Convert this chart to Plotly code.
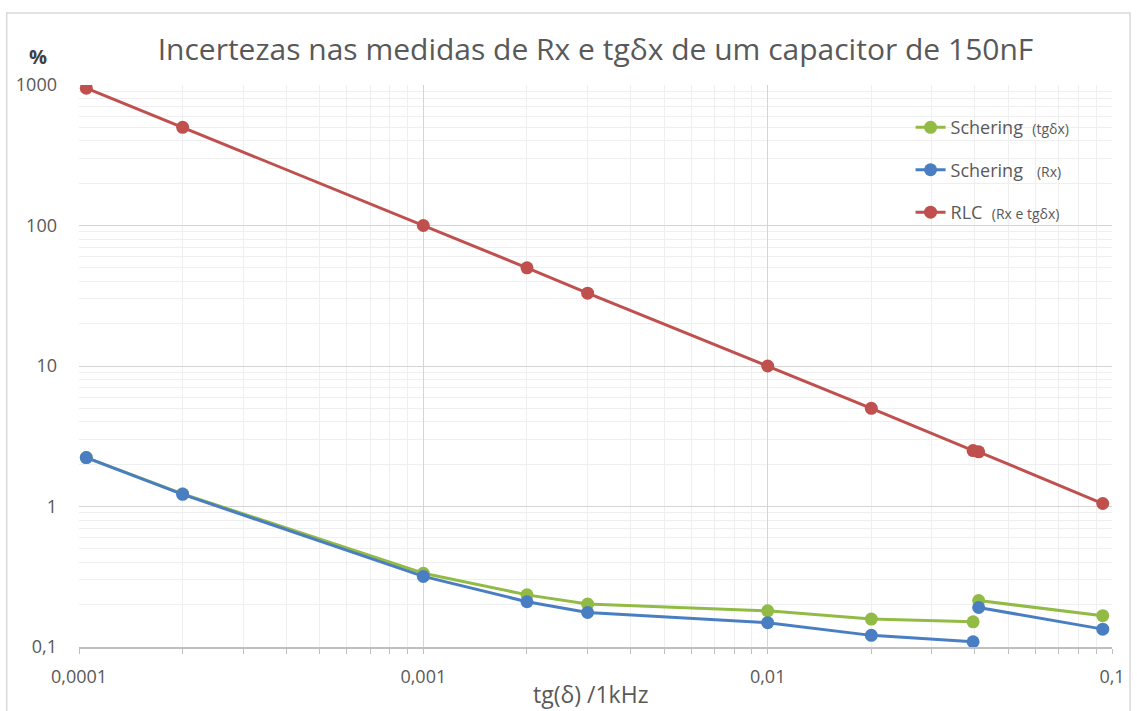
import plotly.graph_objects as go

GREEN = "#92BB45"
BLUE = "#4A7EC2"
RED = "#C0504D"
TEXT = "#595959"
GRID_MAJOR = "#D4D4D4"
GRID_MINOR = "#EFEFEF"

# tg(delta) values at 1 kHz
tg_delta = [0.000105, 0.0002, 0.001, 0.002, 0.003, 0.01, 0.02, 0.0395, 0.041, 0.094]

# uncertainties (%)
rlc = [950, 500, 100, 50, 33, 10, 5, 2.5, 2.45, 1.05]
schering_tg = [2.23, 1.23, 0.335, 0.235, 0.202, 0.181, 0.158, 0.151, 0.214, 0.167]
schering_rx = [2.23, 1.22, 0.318, 0.21, 0.176, 0.149, 0.121, 0.109, 0.191, 0.134]

# the Schering series are broken between the 8th and 9th points
BREAK = 8
x_broken = tg_delta[:BREAK] + [None] + tg_delta[BREAK:]
tg_broken = schering_tg[:BREAK] + [None] + schering_tg[BREAK:]
rx_broken = schering_rx[:BREAK] + [None] + schering_rx[BREAK:]

y_ticks = [0.1, 1, 10, 100, 1000]
y_labels = ["0,1", "1", "10", "100", "1000"]
x_ticks = [0.0001, 0.001, 0.01, 0.1]
x_labels = ["0,0001", "0,001", "0,01", "0,1"]

small = "<span style='font-size:14px'>%s</span>"

fig = go.Figure()
fig.add_trace(go.Scatter(x=x_broken, y=tg_broken, mode="lines+markers",
                         name="Schering\u00a0\u00a0" + small % "(tgδx)", legendgroup="a",
                         line=dict(color=GREEN, width=3), marker=dict(size=13, color=GREEN),
                         connectgaps=False))
fig.add_trace(go.Scatter(x=x_broken, y=rx_broken, mode="lines+markers",
                         name="Schering\u00a0\u00a0\u00a0" + small % "(Rx)", legendgroup="b",
                         line=dict(color=BLUE, width=3), marker=dict(size=13, color=BLUE),
                         connectgaps=False))
fig.add_trace(go.Scatter(x=tg_delta, y=rlc, mode="lines+markers",
                         name="RLC\u00a0\u00a0" + small % "(Rx e tgδx)", legendgroup="c",
                         line=dict(color=RED, width=3), marker=dict(size=13, color=RED)))

fig.update_layout(
    width=1137, height=711,
    paper_bgcolor="white", plot_bgcolor="white",
    font=dict(family="Open Sans", color=TEXT),
    margin=dict(l=79, r=25, t=85, b=64),
    title=dict(text="Incertezas nas medidas de Rx e tgδx de um capacitor de 150nF",
               x=0.5, xref="paper", y=0.93, yanchor="middle",
               font=dict(size=30, color=TEXT, family="Open Sans")),
    showlegend=True,
    legend=dict(x=0.805, y=0.957, xanchor="left", yanchor="top",
                font=dict(size=18, color=TEXT), bgcolor="rgba(0,0,0,0)",
                tracegroupgap=16, traceorder="grouped"),
    xaxis=dict(type="log", range=[-4, -1], tickvals=x_ticks, ticktext=x_labels,
               showgrid=True, gridcolor=GRID_MAJOR, gridwidth=1,
               showline=True, linecolor="#BFBFBF", linewidth=1.5,
               ticks="outside", ticklen=5, tickcolor="#BFBFBF", ticklabelstandoff=8,
               tickfont=dict(size=18, color=TEXT), zeroline=False,
               minor=dict(dtick="D1", showgrid=True, gridcolor=GRID_MINOR,
                          ticks="outside", ticklen=5, tickcolor="#BFBFBF")),
    yaxis=dict(type="log", range=[-1, 3], tickvals=y_ticks, ticktext=y_labels,
               showgrid=True, gridcolor=GRID_MAJOR, gridwidth=1,
               showline=False, ticks="", ticklabelstandoff=21,
               tickfont=dict(size=18, color=TEXT), zeroline=False,
               minor=dict(dtick="D1", showgrid=True, gridcolor=GRID_MINOR)),
    annotations=[
        dict(text="<b>%</b>", xref="paper", yref="paper", x=-0.04, y=1.05,
             xanchor="center", yanchor="middle", showarrow=False,
             font=dict(size=20, color="#404040")),
        dict(text="tg(δ) /1kHz", xref="paper", yref="paper", x=0.495, y=-0.083,
             xanchor="center", yanchor="middle", showarrow=False,
             font=dict(size=23, color=TEXT)),
    ],
    shapes=[
        dict(type="rect", xref="paper", yref="paper", x0=-0.07, x1=1.0175,
             y0=-0.12, y1=1.128, line=dict(color="#D9D9D9", width=1.5)),
    ],
)

fig.write_html("out.html", config={"displayModeBar": False},
               post_script="document.body.style.margin='0';document.body.style.overflow='hidden';")
